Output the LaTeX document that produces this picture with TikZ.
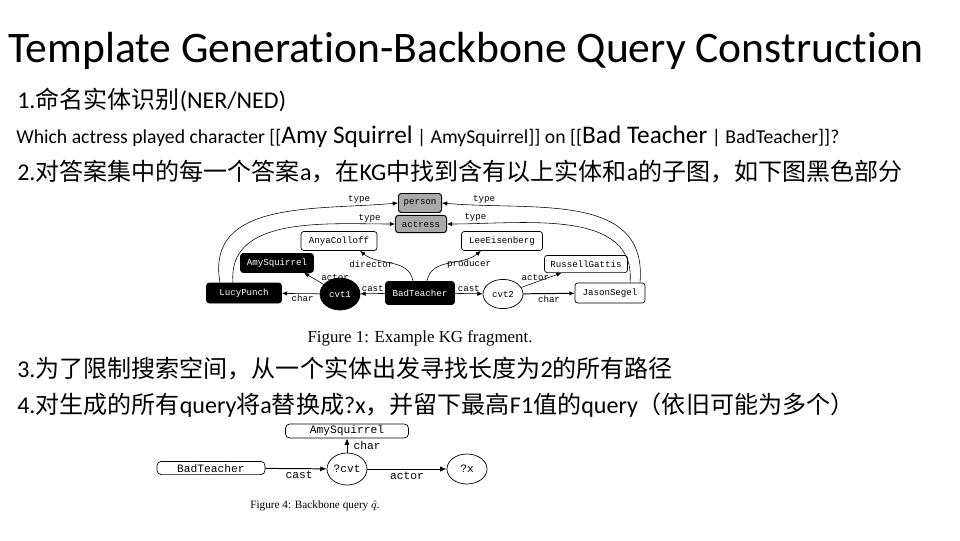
\documentclass[tikz,border=0pt]{standalone}
\usepackage{fontspec}
\setmainfont{Carlito}[RawFeature={-liga;-clig;-calt;-dlig}]
\newfontfamily\zhfont{Noto Sans CJK SC}
\newfontfamily\kgmono{Liberation Mono}
\newfontfamily\figserif{Liberation Serif}
\newcommand{\zh}[1]{{\zhfont #1}}
\newcommand{\grande}[1]{{\fontsize{18}{20}\selectfont #1}}
\usepackage{tikz}
\usetikzlibrary{shapes.geometric,arrows.meta,positioning}
\definecolor{tipogris}{HTML}{A9A9A9}
\tikzset{
  linea/.style={anchor=base west,inner sep=0pt,font=\fontsize{17.1}{20}\selectfont},
  kgbox/.style={draw,fill=white,rounded corners=2pt,line width=0.5pt,inner sep=0pt,minimum height=4.75mm,font=\kgmono\fontsize{6.5}{7}\selectfont},
  kgdark/.style={kgbox,fill=black,text=white},
  kgtype/.style={kgbox,fill=tipogris,line width=0.7pt},
  kgcvt/.style={draw,ellipse,line width=0.5pt,inner sep=0pt,minimum width=10mm,minimum height=7.5mm,font=\kgmono\fontsize{6.5}{7}\selectfont},
  kgarrow/.style={-{Latex[length=1.3mm,width=1.1mm]},line width=0.4pt},
  kglabel/.style={font=\kgmono\fontsize{6.5}{7}\selectfont,inner sep=1pt},
  qbox/.style={draw,rounded corners=3pt,line width=0.5pt,inner sep=0pt,minimum height=3.5mm,font=\kgmono\fontsize{8}{9}\selectfont},
  qvar/.style={draw,ellipse,line width=0.5pt,inner sep=0pt,minimum width=10mm,minimum height=7.8mm,font=\kgmono\fontsize{8}{9}\selectfont},
  qarrow/.style={-{Latex[length=1.6mm,width=1.3mm]},line width=0.7pt},
  qlabel/.style={font=\kgmono\fontsize{8}{9}\selectfont,inner sep=1.5pt},
  figcap/.style={font=\figserif\fontsize{12}{14}\selectfont,inner sep=0pt},
}
\begin{document}
\begin{tikzpicture}[x=0.025cm,y=-0.025cm]
  \useasboundingbox[fill=white] (0,0) rectangle (960,540);
  \node[linea,font=\fontsize{31}{36}\selectfont] (titulo) at (8,62) {Template Generation-Backbone Query Construction};
  \node[linea] (paso1) at (17,108) {1.\zh{命名实体识别}(NER/NED)};
  \node[linea,font=\fontsize{14}{16}\selectfont] (pregunta) at (16,143) {Which actress played character [[\grande{Amy Squirrel} | AmySquirrel]] on [[\grande{Bad Teacher} | BadTeacher]]?};
  \node[linea] (paso2) at (17,180) {2.\zh{对答案集中的每一个答案}a\zh{，在}KG\zh{中找到含有以上实体和}a\zh{的子图，如下图黑色部分}};
  \node[linea] (paso3) at (17,377) {3.\zh{为了限制搜索空间，从一个实体出发寻找长度为}2\zh{的所有路径}};
  \node[linea] (paso4) at (17,413) {4.\zh{对生成的所有}query\zh{将}a\zh{替换成}?x\zh{，并留下最高}F1\zh{值的}query\zh{（依旧可能为多个）}};

  \node[kgtype,minimum width=10.75mm] (person) at (420,203) {person};
  \node[kgtype,minimum width=12.75mm,minimum height=4.3mm] (actress) at (421,224) {actress};
  \node[kgbox,minimum width=19mm] (anya) at (339,241) {AnyaColloff};
  \node[kgbox,minimum width=20.25mm] (lee) at (502,241) {LeeEisenberg};
  \node[kgdark,minimum width=18.25mm] (amy) at (277,263) {AmySquirrel};
  \node[kgbox,minimum width=20.75mm,minimum height=4.3mm] (russell) at (586,264) {RussellGattis};
  \node[kgdark,minimum width=18.75mm,minimum height=5mm] (lucy) at (244,293) {LucyPunch};
  \node[kgcvt,fill=black,text=white,minimum height=8mm] (cvt1) at (340,294) {cvt1};
  \node[kgdark,minimum width=17.25mm,minimum height=5.75mm] (bad) at (420,293) {BadTeacher};
  \node[kgcvt,fill=white,minimum height=7.3mm] (cvt2) at (503,294) {cvt2};
  \node[kgbox,minimum width=17.5mm,minimum height=5mm] (jason) at (610,293) {JasonSegel};
  \draw[kgarrow] (bad) -- node[kglabel,above] {cast} (cvt1);
  \draw[kgarrow] (bad) -- node[kglabel,above] {cast} (cvt2);
  \draw[kgarrow] (cvt1) -- node[kglabel,below,pos=0.45] {char} (lucy);
  \draw[kgarrow,line width=0.7pt] (cvt2) -- node[kglabel,below] {char} (jason);
  \draw[kgarrow] (cvt1) -- node[kglabel,above right,pos=0.2] {actor} (amy.-20);
  \draw[kgarrow] (cvt2) -- node[kglabel,above,pos=0.35] {actor} (russell.200);
  \draw[kgarrow] ([xshift=-1.75mm]bad.north) to[out=100,in=-40] node[kglabel,left,pos=0.45] {director} (anya.-25);
  \draw[kgarrow] ([xshift=1.75mm]bad.north) to[out=80,in=220] node[kglabel,right,pos=0.45] {producer} (lee.205);
  \draw[kgarrow] ([xshift=-6mm]lucy.north) to[out=100,in=185,looseness=1.1] node[kglabel,above,pos=0.85] {type} (person.west);
  \draw[kgarrow] ([xshift=-2.75mm]lucy.north) to[out=95,in=180] node[kglabel,above,pos=0.88] {type} (actress.west);
  \draw[kgarrow] ([xshift=7.5mm]jason.north) to[out=85,in=-5,looseness=1.1] node[kglabel,above,pos=0.85] {type} (person.east);
  \draw[kgarrow] ([xshift=5mm]jason.north) to[out=85,in=0] node[kglabel,above,pos=0.88] {type} (actress.east);
  \node[figcap] (fig1) at (420,338) {Figure 1: Example KG fragment.};

  \node[qbox,minimum width=30.75mm] (qamy) at (347,431) {AmySquirrel};
  \node[qbox,minimum width=27mm,minimum height=3.3mm] (qbad) at (211,468) {BadTeacher};
  \node[qvar,minimum height=8mm] (qcvt) at (347,469) {?cvt};
  \node[qvar,minimum height=7.5mm] (qx) at (467,469) {?x};
  \draw[qarrow] (qbad) -- node[qlabel,below,pos=0.55] {cast} (qcvt);
  \draw[qarrow] (qcvt) -- node[qlabel,right,xshift=1mm] {char} (qamy);
  \draw[qarrow] (qcvt) -- node[qlabel,below] {actor} (qx);
  \node[figcap,font=\figserif\fontsize{8}{10}\selectfont] (fig4) at (315,506) {Figure 4: Backbone query $\hat{q}$.};
\end{tikzpicture}
\end{document}
